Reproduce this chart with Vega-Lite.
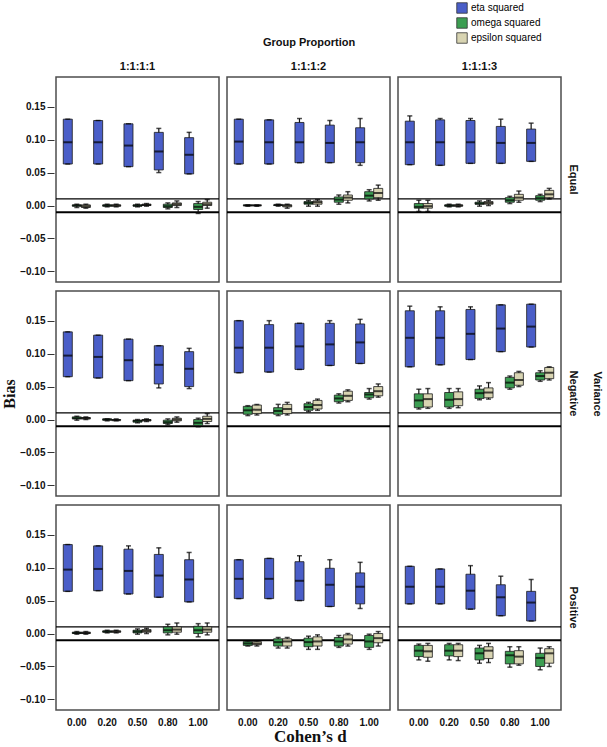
{
"$schema": "https://vega.github.io/schema/vega-lite/v6.json",
"padding": {"left": 1, "top": 2, "right": 0, "bottom": 2},
"autosize": {"type": "pad"},
"config": {
  "font": "Liberation Sans",
  "view": {"stroke": "#4d4d4d", "strokeWidth": 1.5},
  "axis": {"grid": false, "domain": false, "labelFont": "Liberation Sans", "labelFontWeight": "bold", "labelFontSize": 10, "labelColor": "#111", "tickColor": "#333"},
  "header": {"labelFont": "Liberation Sans", "labelFontWeight": "bold", "labelFontSize": 11, "titleFont": "Liberation Sans", "titleFontWeight": "bold", "titleFontSize": 11, "labelColor": "#111", "titleColor": "#111"},
  "concat": {"spacing": 7},
  "facet": {"spacing": 4},
  "legend": {"orient": "none", "legendX": 400, "legendY": -75, "title": null, "symbolType": "square", "symbolSize": 110, "labelFontSize": 10, "labelFont": "Liberation Sans", "rowPadding": 1, "symbolStrokeColor": "#333", "symbolStrokeWidth": 0.8, "labelOffset": 3}
},
"title": {"text": "Cohen’s d", "orient": "bottom", "font": "Liberation Serif", "fontSize": 17, "fontWeight": "bold", "anchor": "middle", "offset": 2, "dx": 8, "color": "#111"},
"datasets": {"box": [
{"v":"Equal","p":"1:1:1:1","d":"0.00","m":"eta squared","lo":0.063,"q1":0.063,"md":0.096,"q3":0.131,"hi":0.131},
{"v":"Equal","p":"1:1:1:1","d":"0.20","m":"eta squared","lo":0.063,"q1":0.063,"md":0.096,"q3":0.129,"hi":0.129},
{"v":"Equal","p":"1:1:1:1","d":"0.50","m":"eta squared","lo":0.059,"q1":0.059,"md":0.091,"q3":0.124,"hi":0.124},
{"v":"Equal","p":"1:1:1:1","d":"0.80","m":"eta squared","lo":0.050,"q1":0.054,"md":0.082,"q3":0.111,"hi":0.117},
{"v":"Equal","p":"1:1:1:1","d":"1.00","m":"eta squared","lo":0.048,"q1":0.048,"md":0.077,"q3":0.103,"hi":0.111},
{"v":"Equal","p":"1:1:1:1","d":"0.00","m":"omega squared","lo":-0.003,"q1":-0.001,"md":0.0,"q3":0.001,"hi":0.002},
{"v":"Equal","p":"1:1:1:1","d":"0.20","m":"omega squared","lo":-0.002,"q1":-0.001,"md":0.0,"q3":0.001,"hi":0.002},
{"v":"Equal","p":"1:1:1:1","d":"0.50","m":"omega squared","lo":-0.002,"q1":-0.001,"md":0.0,"q3":0.001,"hi":0.002},
{"v":"Equal","p":"1:1:1:1","d":"0.80","m":"omega squared","lo":-0.005,"q1":-0.003,"md":-0.001,"q3":0.002,"hi":0.004},
{"v":"Equal","p":"1:1:1:1","d":"1.00","m":"omega squared","lo":-0.012,"q1":-0.006,"md":-0.002,"q3":0.003,"hi":0.006},
{"v":"Equal","p":"1:1:1:1","d":"0.00","m":"epsilon squared","lo":-0.004,"q1":-0.003,"md":-0.001,"q3":0.001,"hi":0.002},
{"v":"Equal","p":"1:1:1:1","d":"0.20","m":"epsilon squared","lo":-0.002,"q1":-0.001,"md":0.0,"q3":0.001,"hi":0.002},
{"v":"Equal","p":"1:1:1:1","d":"0.50","m":"epsilon squared","lo":-0.001,"q1":0.0,"md":0.001,"q3":0.002,"hi":0.003},
{"v":"Equal","p":"1:1:1:1","d":"0.80","m":"epsilon squared","lo":-0.003,"q1":0.0,"md":0.002,"q3":0.004,"hi":0.007},
{"v":"Equal","p":"1:1:1:1","d":"1.00","m":"epsilon squared","lo":-0.004,"q1":0.0,"md":0.002,"q3":0.005,"hi":0.009},
{"v":"Equal","p":"1:1:1:2","d":"0.00","m":"eta squared","lo":0.063,"q1":0.063,"md":0.097,"q3":0.131,"hi":0.131},
{"v":"Equal","p":"1:1:1:2","d":"0.20","m":"eta squared","lo":0.063,"q1":0.063,"md":0.096,"q3":0.130,"hi":0.130},
{"v":"Equal","p":"1:1:1:2","d":"0.50","m":"eta squared","lo":0.065,"q1":0.065,"md":0.096,"q3":0.126,"hi":0.132},
{"v":"Equal","p":"1:1:1:2","d":"0.80","m":"eta squared","lo":0.065,"q1":0.065,"md":0.095,"q3":0.122,"hi":0.129},
{"v":"Equal","p":"1:1:1:2","d":"1.00","m":"eta squared","lo":0.061,"q1":0.065,"md":0.096,"q3":0.118,"hi":0.132},
{"v":"Equal","p":"1:1:1:2","d":"0.00","m":"omega squared","lo":-0.001,"q1":0.0,"md":0.0,"q3":0.001,"hi":0.001},
{"v":"Equal","p":"1:1:1:2","d":"0.20","m":"omega squared","lo":-0.001,"q1":0.0,"md":0.001,"q3":0.001,"hi":0.002},
{"v":"Equal","p":"1:1:1:2","d":"0.50","m":"omega squared","lo":-0.001,"q1":0.002,"md":0.004,"q3":0.006,"hi":0.008},
{"v":"Equal","p":"1:1:1:2","d":"0.80","m":"omega squared","lo":0.002,"q1":0.005,"md":0.009,"q3":0.013,"hi":0.016},
{"v":"Equal","p":"1:1:1:2","d":"1.00","m":"omega squared","lo":0.007,"q1":0.010,"md":0.015,"q3":0.021,"hi":0.024},
{"v":"Equal","p":"1:1:1:2","d":"0.00","m":"epsilon squared","lo":-0.001,"q1":0.0,"md":0.0,"q3":0.001,"hi":0.001},
{"v":"Equal","p":"1:1:1:2","d":"0.20","m":"epsilon squared","lo":-0.004,"q1":-0.002,"md":0.0,"q3":0.001,"hi":0.002},
{"v":"Equal","p":"1:1:1:2","d":"0.50","m":"epsilon squared","lo":-0.001,"q1":0.002,"md":0.005,"q3":0.007,"hi":0.009},
{"v":"Equal","p":"1:1:1:2","d":"0.80","m":"epsilon squared","lo":0.004,"q1":0.008,"md":0.012,"q3":0.016,"hi":0.021},
{"v":"Equal","p":"1:1:1:2","d":"1.00","m":"epsilon squared","lo":0.008,"q1":0.012,"md":0.019,"q3":0.026,"hi":0.031},
{"v":"Equal","p":"1:1:1:3","d":"0.00","m":"eta squared","lo":0.062,"q1":0.062,"md":0.096,"q3":0.128,"hi":0.136},
{"v":"Equal","p":"1:1:1:3","d":"0.20","m":"eta squared","lo":0.061,"q1":0.061,"md":0.096,"q3":0.130,"hi":0.132},
{"v":"Equal","p":"1:1:1:3","d":"0.50","m":"eta squared","lo":0.064,"q1":0.064,"md":0.096,"q3":0.129,"hi":0.132},
{"v":"Equal","p":"1:1:1:3","d":"0.80","m":"eta squared","lo":0.064,"q1":0.064,"md":0.095,"q3":0.120,"hi":0.131},
{"v":"Equal","p":"1:1:1:3","d":"1.00","m":"eta squared","lo":0.067,"q1":0.067,"md":0.095,"q3":0.116,"hi":0.125},
{"v":"Equal","p":"1:1:1:3","d":"0.00","m":"omega squared","lo":-0.009,"q1":-0.004,"md":-0.002,"q3":0.003,"hi":0.008},
{"v":"Equal","p":"1:1:1:3","d":"0.20","m":"omega squared","lo":-0.002,"q1":-0.001,"md":0.0,"q3":0.001,"hi":0.002},
{"v":"Equal","p":"1:1:1:3","d":"0.50","m":"omega squared","lo":-0.001,"q1":0.002,"md":0.003,"q3":0.005,"hi":0.007},
{"v":"Equal","p":"1:1:1:3","d":"0.80","m":"omega squared","lo":0.003,"q1":0.005,"md":0.008,"q3":0.012,"hi":0.014},
{"v":"Equal","p":"1:1:1:3","d":"1.00","m":"omega squared","lo":0.006,"q1":0.008,"md":0.011,"q3":0.015,"hi":0.017},
{"v":"Equal","p":"1:1:1:3","d":"0.00","m":"epsilon squared","lo":-0.009,"q1":-0.004,"md":-0.001,"q3":0.003,"hi":0.008},
{"v":"Equal","p":"1:1:1:3","d":"0.20","m":"epsilon squared","lo":-0.002,"q1":-0.001,"md":0.0,"q3":0.001,"hi":0.002},
{"v":"Equal","p":"1:1:1:3","d":"0.50","m":"epsilon squared","lo":0.0,"q1":0.002,"md":0.004,"q3":0.006,"hi":0.008},
{"v":"Equal","p":"1:1:1:3","d":"0.80","m":"epsilon squared","lo":0.005,"q1":0.008,"md":0.012,"q3":0.017,"hi":0.022},
{"v":"Equal","p":"1:1:1:3","d":"1.00","m":"epsilon squared","lo":0.010,"q1":0.012,"md":0.017,"q3":0.023,"hi":0.026},
{"v":"Negative","p":"1:1:1:1","d":"0.00","m":"eta squared","lo":0.065,"q1":0.065,"md":0.097,"q3":0.133,"hi":0.133},
{"v":"Negative","p":"1:1:1:1","d":"0.20","m":"eta squared","lo":0.063,"q1":0.063,"md":0.095,"q3":0.128,"hi":0.128},
{"v":"Negative","p":"1:1:1:1","d":"0.50","m":"eta squared","lo":0.059,"q1":0.059,"md":0.090,"q3":0.122,"hi":0.122},
{"v":"Negative","p":"1:1:1:1","d":"0.80","m":"eta squared","lo":0.048,"q1":0.054,"md":0.083,"q3":0.112,"hi":0.112},
{"v":"Negative","p":"1:1:1:1","d":"1.00","m":"eta squared","lo":0.047,"q1":0.050,"md":0.077,"q3":0.103,"hi":0.108},
{"v":"Negative","p":"1:1:1:1","d":"0.00","m":"omega squared","lo":-0.001,"q1":0.001,"md":0.002,"q3":0.004,"hi":0.005},
{"v":"Negative","p":"1:1:1:1","d":"0.20","m":"omega squared","lo":-0.002,"q1":-0.001,"md":0.0,"q3":0.001,"hi":0.001},
{"v":"Negative","p":"1:1:1:1","d":"0.50","m":"omega squared","lo":-0.005,"q1":-0.004,"md":-0.002,"q3":-0.001,"hi":0.0},
{"v":"Negative","p":"1:1:1:1","d":"0.80","m":"omega squared","lo":-0.008,"q1":-0.006,"md":-0.004,"q3":-0.001,"hi":0.001},
{"v":"Negative","p":"1:1:1:1","d":"1.00","m":"omega squared","lo":-0.011,"q1":-0.009,"md":-0.005,"q3":0.0,"hi":0.002},
{"v":"Negative","p":"1:1:1:1","d":"0.00","m":"epsilon squared","lo":0.0,"q1":0.001,"md":0.002,"q3":0.003,"hi":0.004},
{"v":"Negative","p":"1:1:1:1","d":"0.20","m":"epsilon squared","lo":-0.002,"q1":-0.001,"md":-0.001,"q3":0.0,"hi":0.001},
{"v":"Negative","p":"1:1:1:1","d":"0.50","m":"epsilon squared","lo":-0.003,"q1":-0.002,"md":-0.001,"q3":0.0,"hi":0.001},
{"v":"Negative","p":"1:1:1:1","d":"0.80","m":"epsilon squared","lo":-0.004,"q1":-0.002,"md":0.0,"q3":0.002,"hi":0.004},
{"v":"Negative","p":"1:1:1:1","d":"1.00","m":"epsilon squared","lo":-0.006,"q1":-0.003,"md":0.001,"q3":0.005,"hi":0.009},
{"v":"Negative","p":"1:1:1:2","d":"0.00","m":"eta squared","lo":0.071,"q1":0.071,"md":0.109,"q3":0.150,"hi":0.150},
{"v":"Negative","p":"1:1:1:2","d":"0.20","m":"eta squared","lo":0.072,"q1":0.072,"md":0.109,"q3":0.144,"hi":0.150},
{"v":"Negative","p":"1:1:1:2","d":"0.50","m":"eta squared","lo":0.076,"q1":0.076,"md":0.111,"q3":0.146,"hi":0.146},
{"v":"Negative","p":"1:1:1:2","d":"0.80","m":"eta squared","lo":0.082,"q1":0.082,"md":0.114,"q3":0.146,"hi":0.150},
{"v":"Negative","p":"1:1:1:2","d":"1.00","m":"eta squared","lo":0.085,"q1":0.085,"md":0.117,"q3":0.145,"hi":0.152},
{"v":"Negative","p":"1:1:1:2","d":"0.00","m":"omega squared","lo":0.006,"q1":0.008,"md":0.014,"q3":0.020,"hi":0.021},
{"v":"Negative","p":"1:1:1:2","d":"0.20","m":"omega squared","lo":0.006,"q1":0.008,"md":0.013,"q3":0.018,"hi":0.023},
{"v":"Negative","p":"1:1:1:2","d":"0.50","m":"omega squared","lo":0.012,"q1":0.014,"md":0.019,"q3":0.024,"hi":0.026},
{"v":"Negative","p":"1:1:1:2","d":"0.80","m":"omega squared","lo":0.025,"q1":0.027,"md":0.032,"q3":0.037,"hi":0.039},
{"v":"Negative","p":"1:1:1:2","d":"1.00","m":"omega squared","lo":0.031,"q1":0.033,"md":0.038,"q3":0.041,"hi":0.047},
{"v":"Negative","p":"1:1:1:2","d":"0.00","m":"epsilon squared","lo":0.007,"q1":0.009,"md":0.015,"q3":0.022,"hi":0.023},
{"v":"Negative","p":"1:1:1:2","d":"0.20","m":"epsilon squared","lo":0.007,"q1":0.009,"md":0.016,"q3":0.023,"hi":0.026},
{"v":"Negative","p":"1:1:1:2","d":"0.50","m":"epsilon squared","lo":0.014,"q1":0.016,"md":0.022,"q3":0.029,"hi":0.031},
{"v":"Negative","p":"1:1:1:2","d":"0.80","m":"epsilon squared","lo":0.027,"q1":0.029,"md":0.036,"q3":0.043,"hi":0.045},
{"v":"Negative","p":"1:1:1:2","d":"1.00","m":"epsilon squared","lo":0.034,"q1":0.036,"md":0.043,"q3":0.050,"hi":0.054},
{"v":"Negative","p":"1:1:1:3","d":"0.00","m":"eta squared","lo":0.080,"q1":0.080,"md":0.124,"q3":0.165,"hi":0.172},
{"v":"Negative","p":"1:1:1:3","d":"0.20","m":"eta squared","lo":0.083,"q1":0.083,"md":0.124,"q3":0.165,"hi":0.171},
{"v":"Negative","p":"1:1:1:3","d":"0.50","m":"eta squared","lo":0.091,"q1":0.091,"md":0.130,"q3":0.167,"hi":0.171},
{"v":"Negative","p":"1:1:1:3","d":"0.80","m":"eta squared","lo":0.103,"q1":0.103,"md":0.138,"q3":0.174,"hi":0.174},
{"v":"Negative","p":"1:1:1:3","d":"1.00","m":"eta squared","lo":0.110,"q1":0.110,"md":0.141,"q3":0.175,"hi":0.175},
{"v":"Negative","p":"1:1:1:3","d":"0.00","m":"omega squared","lo":0.016,"q1":0.018,"md":0.029,"q3":0.039,"hi":0.046},
{"v":"Negative","p":"1:1:1:3","d":"0.20","m":"omega squared","lo":0.017,"q1":0.019,"md":0.030,"q3":0.041,"hi":0.047},
{"v":"Negative","p":"1:1:1:3","d":"0.50","m":"omega squared","lo":0.030,"q1":0.032,"md":0.040,"q3":0.046,"hi":0.051},
{"v":"Negative","p":"1:1:1:3","d":"0.80","m":"omega squared","lo":0.046,"q1":0.048,"md":0.056,"q3":0.064,"hi":0.066},
{"v":"Negative","p":"1:1:1:3","d":"1.00","m":"omega squared","lo":0.058,"q1":0.060,"md":0.066,"q3":0.071,"hi":0.074},
{"v":"Negative","p":"1:1:1:3","d":"0.00","m":"epsilon squared","lo":0.017,"q1":0.019,"md":0.031,"q3":0.039,"hi":0.047},
{"v":"Negative","p":"1:1:1:3","d":"0.20","m":"epsilon squared","lo":0.018,"q1":0.021,"md":0.031,"q3":0.042,"hi":0.047},
{"v":"Negative","p":"1:1:1:3","d":"0.50","m":"epsilon squared","lo":0.031,"q1":0.033,"md":0.041,"q3":0.048,"hi":0.056},
{"v":"Negative","p":"1:1:1:3","d":"0.80","m":"epsilon squared","lo":0.050,"q1":0.052,"md":0.060,"q3":0.071,"hi":0.073},
{"v":"Negative","p":"1:1:1:3","d":"1.00","m":"epsilon squared","lo":0.060,"q1":0.062,"md":0.071,"q3":0.079,"hi":0.080},
{"v":"Positive","p":"1:1:1:1","d":"0.00","m":"eta squared","lo":0.064,"q1":0.064,"md":0.097,"q3":0.135,"hi":0.135},
{"v":"Positive","p":"1:1:1:1","d":"0.20","m":"eta squared","lo":0.065,"q1":0.065,"md":0.098,"q3":0.133,"hi":0.133},
{"v":"Positive","p":"1:1:1:1","d":"0.50","m":"eta squared","lo":0.060,"q1":0.060,"md":0.095,"q3":0.128,"hi":0.133},
{"v":"Positive","p":"1:1:1:1","d":"0.80","m":"eta squared","lo":0.055,"q1":0.055,"md":0.088,"q3":0.120,"hi":0.130},
{"v":"Positive","p":"1:1:1:1","d":"1.00","m":"eta squared","lo":0.048,"q1":0.048,"md":0.082,"q3":0.112,"hi":0.123},
{"v":"Positive","p":"1:1:1:1","d":"0.00","m":"omega squared","lo":-0.001,"q1":0.0,"md":0.001,"q3":0.002,"hi":0.003},
{"v":"Positive","p":"1:1:1:1","d":"0.20","m":"omega squared","lo":0.001,"q1":0.002,"md":0.003,"q3":0.004,"hi":0.005},
{"v":"Positive","p":"1:1:1:1","d":"0.50","m":"omega squared","lo":-0.001,"q1":0.001,"md":0.003,"q3":0.005,"hi":0.007},
{"v":"Positive","p":"1:1:1:1","d":"0.80","m":"omega squared","lo":-0.002,"q1":0.001,"md":0.005,"q3":0.010,"hi":0.014},
{"v":"Positive","p":"1:1:1:1","d":"1.00","m":"omega squared","lo":-0.005,"q1":0.0,"md":0.005,"q3":0.011,"hi":0.015},
{"v":"Positive","p":"1:1:1:1","d":"0.00","m":"epsilon squared","lo":-0.001,"q1":0.0,"md":0.001,"q3":0.002,"hi":0.003},
{"v":"Positive","p":"1:1:1:1","d":"0.20","m":"epsilon squared","lo":0.001,"q1":0.002,"md":0.003,"q3":0.004,"hi":0.005},
{"v":"Positive","p":"1:1:1:1","d":"0.50","m":"epsilon squared","lo":0.0,"q1":0.002,"md":0.004,"q3":0.006,"hi":0.008},
{"v":"Positive","p":"1:1:1:1","d":"0.80","m":"epsilon squared","lo":-0.001,"q1":0.002,"md":0.006,"q3":0.010,"hi":0.016},
{"v":"Positive","p":"1:1:1:1","d":"1.00","m":"epsilon squared","lo":-0.002,"q1":0.002,"md":0.006,"q3":0.010,"hi":0.016},
{"v":"Positive","p":"1:1:1:2","d":"0.00","m":"eta squared","lo":0.053,"q1":0.053,"md":0.083,"q3":0.112,"hi":0.112},
{"v":"Positive","p":"1:1:1:2","d":"0.20","m":"eta squared","lo":0.053,"q1":0.053,"md":0.083,"q3":0.114,"hi":0.114},
{"v":"Positive","p":"1:1:1:2","d":"0.50","m":"eta squared","lo":0.050,"q1":0.050,"md":0.080,"q3":0.109,"hi":0.118},
{"v":"Positive","p":"1:1:1:2","d":"0.80","m":"eta squared","lo":0.041,"q1":0.041,"md":0.074,"q3":0.099,"hi":0.112},
{"v":"Positive","p":"1:1:1:2","d":"1.00","m":"eta squared","lo":0.038,"q1":0.045,"md":0.071,"q3":0.092,"hi":0.108},
{"v":"Positive","p":"1:1:1:2","d":"0.00","m":"omega squared","lo":-0.019,"q1":-0.018,"md":-0.015,"q3":-0.012,"hi":-0.011},
{"v":"Positive","p":"1:1:1:2","d":"0.20","m":"omega squared","lo":-0.022,"q1":-0.019,"md":-0.013,"q3":-0.008,"hi":-0.006},
{"v":"Positive","p":"1:1:1:2","d":"0.50","m":"omega squared","lo":-0.024,"q1":-0.020,"md":-0.013,"q3":-0.007,"hi":-0.004},
{"v":"Positive","p":"1:1:1:2","d":"0.80","m":"omega squared","lo":-0.021,"q1":-0.019,"md":-0.012,"q3":-0.006,"hi":-0.003},
{"v":"Positive","p":"1:1:1:2","d":"1.00","m":"omega squared","lo":-0.024,"q1":-0.021,"md":-0.012,"q3":-0.003,"hi":-0.001},
{"v":"Positive","p":"1:1:1:2","d":"0.00","m":"epsilon squared","lo":-0.019,"q1":-0.017,"md":-0.015,"q3":-0.012,"hi":-0.011},
{"v":"Positive","p":"1:1:1:2","d":"0.20","m":"epsilon squared","lo":-0.022,"q1":-0.019,"md":-0.012,"q3":-0.008,"hi":-0.006},
{"v":"Positive","p":"1:1:1:2","d":"0.50","m":"epsilon squared","lo":-0.024,"q1":-0.019,"md":-0.012,"q3":-0.005,"hi":-0.002},
{"v":"Positive","p":"1:1:1:2","d":"0.80","m":"epsilon squared","lo":-0.019,"q1":-0.016,"md":-0.009,"q3":-0.002,"hi":0.0},
{"v":"Positive","p":"1:1:1:2","d":"1.00","m":"epsilon squared","lo":-0.019,"q1":-0.014,"md":-0.007,"q3":0.0,"hi":0.003},
{"v":"Positive","p":"1:1:1:3","d":"0.00","m":"eta squared","lo":0.045,"q1":0.045,"md":0.071,"q3":0.102,"hi":0.102},
{"v":"Positive","p":"1:1:1:3","d":"0.20","m":"eta squared","lo":0.045,"q1":0.045,"md":0.071,"q3":0.098,"hi":0.098},
{"v":"Positive","p":"1:1:1:3","d":"0.50","m":"eta squared","lo":0.037,"q1":0.037,"md":0.065,"q3":0.090,"hi":0.103},
{"v":"Positive","p":"1:1:1:3","d":"0.80","m":"eta squared","lo":0.027,"q1":0.027,"md":0.055,"q3":0.074,"hi":0.087},
{"v":"Positive","p":"1:1:1:3","d":"1.00","m":"eta squared","lo":0.019,"q1":0.019,"md":0.047,"q3":0.064,"hi":0.082},
{"v":"Positive","p":"1:1:1:3","d":"0.00","m":"omega squared","lo":-0.040,"q1":-0.035,"md":-0.026,"q3":-0.018,"hi":-0.016},
{"v":"Positive","p":"1:1:1:3","d":"0.20","m":"omega squared","lo":-0.040,"q1":-0.034,"md":-0.026,"q3":-0.017,"hi":-0.015},
{"v":"Positive","p":"1:1:1:3","d":"0.50","m":"omega squared","lo":-0.045,"q1":-0.040,"md":-0.030,"q3":-0.022,"hi":-0.018},
{"v":"Positive","p":"1:1:1:3","d":"0.80","m":"omega squared","lo":-0.051,"q1":-0.046,"md":-0.033,"q3":-0.027,"hi":-0.020},
{"v":"Positive","p":"1:1:1:3","d":"1.00","m":"omega squared","lo":-0.055,"q1":-0.050,"md":-0.037,"q3":-0.030,"hi":-0.022},
{"v":"Positive","p":"1:1:1:3","d":"0.00","m":"epsilon squared","lo":-0.042,"q1":-0.036,"md":-0.027,"q3":-0.018,"hi":-0.015},
{"v":"Positive","p":"1:1:1:3","d":"0.20","m":"epsilon squared","lo":-0.041,"q1":-0.035,"md":-0.026,"q3":-0.017,"hi":-0.015},
{"v":"Positive","p":"1:1:1:3","d":"0.50","m":"epsilon squared","lo":-0.044,"q1":-0.038,"md":-0.026,"q3":-0.020,"hi":-0.015},
{"v":"Positive","p":"1:1:1:3","d":"0.80","m":"epsilon squared","lo":-0.048,"q1":-0.046,"md":-0.035,"q3":-0.026,"hi":-0.020},
{"v":"Positive","p":"1:1:1:3","d":"1.00","m":"epsilon squared","lo":-0.050,"q1":-0.045,"md":-0.030,"q3":-0.023,"hi":-0.020}
]},
"data": {"name": "box"},
"vconcat": [
{
  "transform": [{"filter": "datum.v == 'Equal'"}],
  "facet": {
    "row": {"field": "v", "type": "nominal", "title": null, "header": {"labelOrient": "right", "labelAngle": 90, "labelPadding": 5}},
    "column": {"field": "p", "type": "nominal", "title": "Group Proportion", "header": {"labelOrient": "top", "titleOrient": "top", "labelPadding": 4, "titlePadding": 3}}
  },
  "spec": {
    "width": 163, "height": 205,
    "layer": [
      {"transform": [{"filter": "datum.m == 'eta squared' && datum.d == '0.00'"}], "mark": {"type": "rule", "color": "#000", "strokeWidth": 1.2}, "encoding": {"y": {"datum": 0.01, "type": "quantitative", "scale": {"domain": [-0.116, 0.195], "nice": false, "zero": false}, "axis": {"values": [-0.1, -0.05, 0, 0.05, 0.1, 0.15], "format": ".2f", "title": null, "tickSize": 7, "labelPadding": 2}}}},
      {"transform": [{"filter": "datum.m == 'eta squared' && datum.d == '0.00'"}], "mark": {"type": "rule", "color": "#000", "strokeWidth": 2}, "encoding": {"y": {"datum": -0.01, "type": "quantitative"}}},
      {"mark": {"type": "rule", "color": "#111", "strokeWidth": 1.2}, "encoding": {
        "x": {"field": "d", "type": "nominal", "scale": {"paddingInner": 0.107, "paddingOuter": 0.24}, "axis": null},
        "xOffset": {"field": "m", "type": "nominal", "sort": ["eta squared", "omega squared", "epsilon squared"], "scale": {"paddingInner": 0, "paddingOuter": 0}},
        "y": {"field": "lo", "type": "quantitative"}, "y2": {"field": "hi"}}},
      {"mark": {"type": "bar", "stroke": "#1c1c1c", "strokeWidth": 0.8}, "encoding": {
        "x": {"field": "d", "type": "nominal", "axis": null},
        "xOffset": {"field": "m", "type": "nominal", "sort": ["eta squared", "omega squared", "epsilon squared"]},
        "y": {"field": "q1", "type": "quantitative"}, "y2": {"field": "q3"},
        "color": {"field": "m", "type": "nominal", "scale": {"domain": ["eta squared", "omega squared", "epsilon squared"], "range": ["#4a5ec8", "#3c9e52", "#d8d4b2"]}}}},
      {"mark": {"type": "tick", "color": "#000", "thickness": 2, "size": 9}, "encoding": {
        "x": {"field": "d", "type": "nominal", "axis": null},
        "xOffset": {"field": "m", "type": "nominal", "sort": ["eta squared", "omega squared", "epsilon squared"]},
        "y": {"field": "md", "type": "quantitative"}}},
      {"mark": {"type": "tick", "color": "#000", "thickness": 1.5, "size": 5}, "encoding": {
        "x": {"field": "d", "type": "nominal", "axis": null},
        "xOffset": {"field": "m", "type": "nominal", "sort": ["eta squared", "omega squared", "epsilon squared"]},
        "y": {"field": "lo", "type": "quantitative"}}},
      {"mark": {"type": "tick", "color": "#000", "thickness": 1.5, "size": 5}, "encoding": {
        "x": {"field": "d", "type": "nominal", "axis": null},
        "xOffset": {"field": "m", "type": "nominal", "sort": ["eta squared", "omega squared", "epsilon squared"]},
        "y": {"field": "hi", "type": "quantitative"}}}
    ]
  }
},
{
  "transform": [{"filter": "datum.v == 'Negative'"}],
  "facet": {
    "row": {"field": "v", "type": "nominal", "title": "Variance", "header": {"labelOrient": "right", "labelAngle": 90, "labelPadding": 5, "titleOrient": "right", "titleAngle": 90, "titlePadding": 3}},
    "column": {"field": "p", "type": "nominal", "header": null}
  },
  "spec": {
    "width": 163, "height": 205,
    "layer": [
      {"transform": [{"filter": "datum.m == 'eta squared' && datum.d == '0.00'"}], "mark": {"type": "rule", "color": "#000", "strokeWidth": 1.2}, "encoding": {"y": {"datum": 0.01, "type": "quantitative", "scale": {"domain": [-0.116, 0.195], "nice": false, "zero": false}, "axis": {"values": [-0.1, -0.05, 0, 0.05, 0.1, 0.15], "format": ".2f", "title": "Bias", "titleFont": "Liberation Serif", "titleFontSize": 16, "titleFontWeight": "bold", "titleColor": "#111", "titlePadding": 2, "tickSize": 7, "labelPadding": 2}}}},
      {"transform": [{"filter": "datum.m == 'eta squared' && datum.d == '0.00'"}], "mark": {"type": "rule", "color": "#000", "strokeWidth": 2}, "encoding": {"y": {"datum": -0.01, "type": "quantitative"}}},
      {"mark": {"type": "rule", "color": "#111", "strokeWidth": 1.2}, "encoding": {
        "x": {"field": "d", "type": "nominal", "scale": {"paddingInner": 0.107, "paddingOuter": 0.24}, "axis": null},
        "xOffset": {"field": "m", "type": "nominal", "sort": ["eta squared", "omega squared", "epsilon squared"], "scale": {"paddingInner": 0, "paddingOuter": 0}},
        "y": {"field": "lo", "type": "quantitative"}, "y2": {"field": "hi"}}},
      {"mark": {"type": "bar", "stroke": "#1c1c1c", "strokeWidth": 0.8}, "encoding": {
        "x": {"field": "d", "type": "nominal", "axis": null},
        "xOffset": {"field": "m", "type": "nominal", "sort": ["eta squared", "omega squared", "epsilon squared"]},
        "y": {"field": "q1", "type": "quantitative"}, "y2": {"field": "q3"},
        "color": {"field": "m", "type": "nominal", "scale": {"domain": ["eta squared", "omega squared", "epsilon squared"], "range": ["#4a5ec8", "#3c9e52", "#d8d4b2"]}}}},
      {"mark": {"type": "tick", "color": "#000", "thickness": 2, "size": 9}, "encoding": {
        "x": {"field": "d", "type": "nominal", "axis": null},
        "xOffset": {"field": "m", "type": "nominal", "sort": ["eta squared", "omega squared", "epsilon squared"]},
        "y": {"field": "md", "type": "quantitative"}}},
      {"mark": {"type": "tick", "color": "#000", "thickness": 1.5, "size": 5}, "encoding": {
        "x": {"field": "d", "type": "nominal", "axis": null},
        "xOffset": {"field": "m", "type": "nominal", "sort": ["eta squared", "omega squared", "epsilon squared"]},
        "y": {"field": "lo", "type": "quantitative"}}},
      {"mark": {"type": "tick", "color": "#000", "thickness": 1.5, "size": 5}, "encoding": {
        "x": {"field": "d", "type": "nominal", "axis": null},
        "xOffset": {"field": "m", "type": "nominal", "sort": ["eta squared", "omega squared", "epsilon squared"]},
        "y": {"field": "hi", "type": "quantitative"}}}
    ]
  }
},
{
  "transform": [{"filter": "datum.v == 'Positive'"}],
  "facet": {
    "row": {"field": "v", "type": "nominal", "title": null, "header": {"labelOrient": "right", "labelAngle": 90, "labelPadding": 5}},
    "column": {"field": "p", "type": "nominal", "header": null}
  },
  "spec": {
    "width": 163, "height": 205,
    "layer": [
      {"transform": [{"filter": "datum.m == 'eta squared' && datum.d == '0.00'"}], "mark": {"type": "rule", "color": "#000", "strokeWidth": 1.2}, "encoding": {"y": {"datum": 0.01, "type": "quantitative", "scale": {"domain": [-0.116, 0.195], "nice": false, "zero": false}, "axis": {"values": [-0.1, -0.05, 0, 0.05, 0.1, 0.15], "format": ".2f", "title": null, "tickSize": 7, "labelPadding": 2}}}},
      {"transform": [{"filter": "datum.m == 'eta squared' && datum.d == '0.00'"}], "mark": {"type": "rule", "color": "#000", "strokeWidth": 2}, "encoding": {"y": {"datum": -0.01, "type": "quantitative"}}},
      {"mark": {"type": "rule", "color": "#111", "strokeWidth": 1.2}, "encoding": {
        "x": {"field": "d", "type": "nominal", "scale": {"paddingInner": 0.107, "paddingOuter": 0.24}, "axis": {"title": null, "ticks": false, "labelPadding": 6, "labelAngle": 0}},
        "xOffset": {"field": "m", "type": "nominal", "sort": ["eta squared", "omega squared", "epsilon squared"], "scale": {"paddingInner": 0, "paddingOuter": 0}},
        "y": {"field": "lo", "type": "quantitative"}, "y2": {"field": "hi"}}},
      {"mark": {"type": "bar", "stroke": "#1c1c1c", "strokeWidth": 0.8}, "encoding": {
        "x": {"field": "d", "type": "nominal", "axis": {"title": null, "ticks": false, "labelPadding": 6, "labelAngle": 0}},
        "xOffset": {"field": "m", "type": "nominal", "sort": ["eta squared", "omega squared", "epsilon squared"]},
        "y": {"field": "q1", "type": "quantitative"}, "y2": {"field": "q3"},
        "color": {"field": "m", "type": "nominal", "scale": {"domain": ["eta squared", "omega squared", "epsilon squared"], "range": ["#4a5ec8", "#3c9e52", "#d8d4b2"]}}}},
      {"mark": {"type": "tick", "color": "#000", "thickness": 2, "size": 9}, "encoding": {
        "x": {"field": "d", "type": "nominal", "axis": {"title": null, "ticks": false, "labelPadding": 6, "labelAngle": 0}},
        "xOffset": {"field": "m", "type": "nominal", "sort": ["eta squared", "omega squared", "epsilon squared"]},
        "y": {"field": "md", "type": "quantitative"}}},
      {"mark": {"type": "tick", "color": "#000", "thickness": 1.5, "size": 5}, "encoding": {
        "x": {"field": "d", "type": "nominal", "axis": {"title": null, "ticks": false, "labelPadding": 6, "labelAngle": 0}},
        "xOffset": {"field": "m", "type": "nominal", "sort": ["eta squared", "omega squared", "epsilon squared"]},
        "y": {"field": "lo", "type": "quantitative"}}},
      {"mark": {"type": "tick", "color": "#000", "thickness": 1.5, "size": 5}, "encoding": {
        "x": {"field": "d", "type": "nominal", "axis": {"title": null, "ticks": false, "labelPadding": 6, "labelAngle": 0}},
        "xOffset": {"field": "m", "type": "nominal", "sort": ["eta squared", "omega squared", "epsilon squared"]},
        "y": {"field": "hi", "type": "quantitative"}}}
    ]
  }
}
]
}
